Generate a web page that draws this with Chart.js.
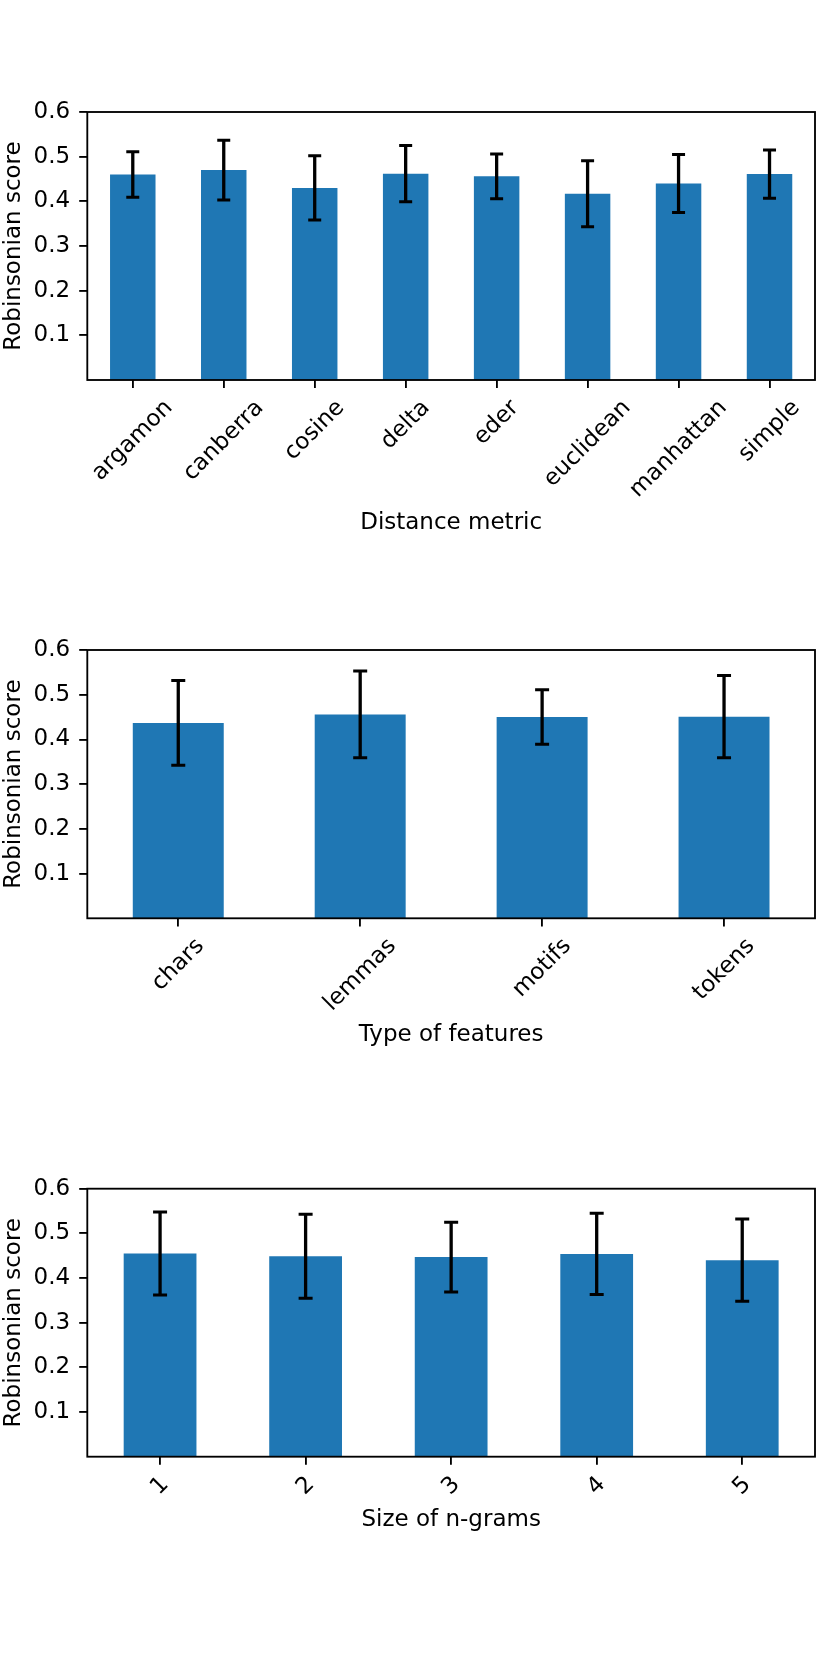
<!DOCTYPE html>
<html><head><meta charset="utf-8">
<script src="https://cdn.jsdelivr.net/npm/chart.js@4.4.0/dist/chart.umd.min.js"></script>
<style>
html,body{margin:0;padding:0;background:#fff;}
#wrap{position:relative;width:834px;height:1667px;overflow:hidden;}
canvas{position:absolute;left:0;}
</style></head><body>
<div id="wrap">
<canvas id="c1" width="834" height="556" style="top:0px;width:834px;height:556px"></canvas>
<canvas id="c2" width="834" height="556" style="top:556px;width:834px;height:556px"></canvas>
<canvas id="c3" width="834" height="555" style="top:1112px;width:834px;height:555px"></canvas>
</div>
<script>
// ---- data ----
const metricLabels = ['argamon','canberra','cosine','delta','eder','euclidean','manhattan','simple'];
const metricScores = [0.460,0.470,0.430,0.462,0.456,0.417,0.440,0.461];
const metricErrors = [0.051,0.067,0.072,0.063,0.050,0.074,0.065,0.054];

const featureLabels = ['chars','lemmas','motifs','tokens'];
const featureScores = [0.437,0.456,0.450,0.451];
const featureErrors = [0.095,0.097,0.061,0.092];

const ngramLabels = ['1','2','3','4','5'];
const ngramScores = [0.455,0.449,0.447,0.454,0.440];
const ngramErrors = [0.093,0.094,0.078,0.091,0.092];

const yTickValues = [0.1,0.2,0.3,0.4,0.5,0.6];
const yTitle = 'Robinsonian score';

// ---- style ----
const FONT = '"DejaVu Sans", "Liberation Sans", sans-serif';
const FS = 23;
const TICK_LEN = 8.1;
const TICK_W = 1.85;
const PAD = 8.1;
const BAR_COLOR = '#1f77b4';

const errorBarPlugin = {
  id: 'errorBars',
  afterDatasetsDraw(chart, args, opts) {
    const ctx = chart.ctx;
    const y = chart.scales.y;
    const meta = chart.getDatasetMeta(0);
    const vals = chart.data.datasets[0].data;
    const errs = opts.errors;
    ctx.save();
    ctx.strokeStyle = '#000';
    meta.data.forEach((bar, i) => {
      const x = bar.x;
      const yt = y.getPixelForValue(vals[i] + errs[i]);
      const yb = y.getPixelForValue(vals[i] - errs[i]);
      ctx.lineWidth = 3.3;
      ctx.beginPath(); ctx.moveTo(x, yt); ctx.lineTo(x, yb); ctx.stroke();
      ctx.lineWidth = 3;
      const c = opts.cap / 2;
      ctx.beginPath();
      ctx.moveTo(x - c, yt); ctx.lineTo(x + c, yt);
      ctx.moveTo(x - c, yb); ctx.lineTo(x + c, yb);
      ctx.stroke();
    });
    // frame (spines)
    const a = chart.chartArea;
    ctx.lineWidth = TICK_W;
    ctx.strokeStyle = '#000';
    ctx.strokeRect(a.left, a.top, a.right - a.left, a.bottom - a.top);
    ctx.restore();
  }
};

const rotatedLabelsPlugin = {
  id: 'rotLabels',
  afterDraw(chart) {
    const ctx = chart.ctx;
    const xs = chart.scales.x;
    const labels = chart.data.labels;
    const y0 = chart.chartArea.bottom + TICK_LEN + PAD;
    ctx.save();
    ctx.font = FS + 'px ' + FONT;
    ctx.fillStyle = '#000';
    ctx.textAlign = 'center';
    ctx.textBaseline = 'middle';
    labels.forEach((lab, i) => {
      const x = xs.getPixelForTick(i);
      const w = ctx.measureText(lab).width;
      const h = FS;
      const H = (w + h) * Math.SQRT1_2;
      ctx.save();
      ctx.translate(x, y0 + H / 2);
      ctx.rotate(-Math.PI / 4);
      ctx.fillText(lab, 0, 0);
      ctx.restore();
    });
    ctx.restore();
  }
};

function makeChart(id, labels, scores, errors, xTitle, g) {
  const canvas = document.getElementById(id);
  const H = canvas.height;
  return new Chart(canvas, {
    type: 'bar',
    data: {
      labels: labels,
      datasets: [{
        data: scores,
        backgroundColor: BAR_COLOR,
        borderWidth: 0,
        barPercentage: 0.5,
        categoryPercentage: 1.0
      }]
    },
    options: {
      responsive: false,
      animation: false,
      devicePixelRatio: 1,
      layout: { padding: { left: 0, right: 19, top: g.plotTop, bottom: 0 } },
      plugins: {
        legend: { display: false },
        tooltip: { enabled: false },
        errorBars: { errors: errors, cap: g.cap }
      },
      scales: {
        x: {
          type: 'category',
          offset: true,
          grid: { display: true, offset: false, drawOnChartArea: false, drawTicks: true,
                  tickLength: TICK_LEN, color: '#000', lineWidth: TICK_W },
          border: { display: false },
          ticks: { display: false },
          title: { display: true, text: xTitle, color: '#000',
                   font: { family: FONT, size: FS, lineHeight: 1.2 },
                   padding: { top: 0, bottom: H - g.titleY - FS * 0.6 } },
          afterFit(s) { s.height = H - g.plotBottom; }
        },
        y: {
          type: 'linear',
          min: 0, max: 0.6,
          afterBuildTicks(s) { s.ticks = yTickValues.map(v => ({ value: v })); },
          grid: { display: true, drawOnChartArea: false, drawTicks: true,
                  tickLength: TICK_LEN, color: '#000', lineWidth: TICK_W },
          border: { display: false },
          ticks: { color: '#000', padding: 9, font: { family: FONT, size: FS },
                   callback: v => Number(v).toFixed(1) },
          title: { display: true, text: yTitle, color: '#000',
                   font: { family: FONT, size: FS, lineHeight: 1.2 },
                   padding: { top: 0, bottom: 0 } },
          afterFit(s) { s.width = 87.3; }
        }
      }
    },
    plugins: [errorBarPlugin, rotatedLabelsPlugin]
  });
}

makeChart('c1', metricLabels, metricScores, metricErrors, 'Distance metric',
  { plotTop: 112, plotBottom: 380, titleY: 523, cap: 13 });
makeChart('c2', featureLabels, featureScores, featureErrors, 'Type of features',
  { plotTop: 94, plotBottom: 362.3, titleY: 479, cap: 14 });
makeChart('c3', ngramLabels, ngramScores, ngramErrors, 'Size of n-grams',
  { plotTop: 76.7, plotBottom: 344.7, titleY: 408, cap: 14 });
</script>
</body></html>
